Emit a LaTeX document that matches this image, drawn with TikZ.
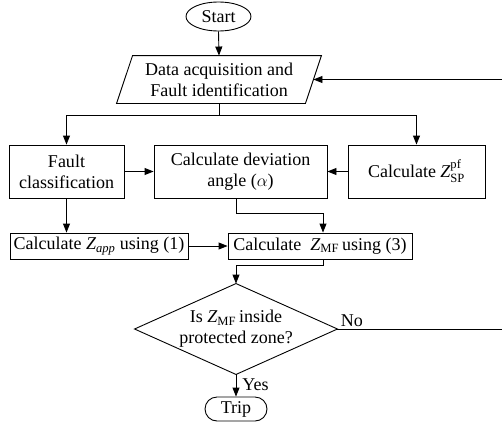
\documentclass[tikz,border=0pt]{standalone}
\usepackage{fontspec}
\setmainfont{Liberation Serif}
\usepackage{amsmath}
\usetikzlibrary{shapes.geometric,arrows.meta}
\begin{document}
\begin{tikzpicture}[x=1pt,y=-1pt,
  font=\fontsize{18}{21}\selectfont,
  line width=0.9pt,
  arr/.style={-{Triangle[length=9pt,width=7pt]}},
  box/.style={draw,rectangle,inner sep=0pt,align=center},
  lbl/.style={inner sep=0pt}]
\useasboundingbox (0,0) rectangle (502,423);
% nodes
\node[draw,ellipse,minimum width=65pt,minimum height=29pt,inner sep=0pt] (start) at (218.5,16.5) {Start};
\node[inner sep=0pt,minimum width=188pt,minimum height=47pt,align=center] (data) at (219,79.5) {Data acquisition and\\Fault identification};
\draw ([xshift=8pt]data.north west) -- ([xshift=8pt]data.north east) -- ([xshift=-8pt]data.south east) -- ([xshift=-8pt]data.south west) -- cycle;
\node[box,minimum width=115pt,minimum height=53pt] (fc) at (66.5,171.5) {Fault\\classification};
\node[box,minimum width=173pt,minimum height=53pt] (dev) at (240.5,171.5) {Calculate deviation\\angle ($\alpha$)};
\node[box,minimum width=137pt,minimum height=53pt] (sp) at (416.5,171.5) {Calculate $\textit{Z}_{\text{SP}}^{\text{pf}}$};
\node[box,minimum width=178pt,minimum height=26pt] (app) at (99,246) {Calculate $\textit{Z}_{\textit{app}}$ using (1)};
\node[box,minimum width=184pt,minimum height=26pt] (mf) at (320,246) {Calculate\ \ $\textit{Z}_{\text{MF}}$\,using (3)};
\node[minimum width=202pt,minimum height=90pt,inner sep=0pt,align=center] (dec) at (236,329) {Is $\textit{Z}_{\text{MF}}$\,inside\\protected zone?};
\draw (dec.north) -- (dec.east) -- (dec.south) -- (dec.west) -- cycle;
\node[draw,rectangle,rounded corners=12pt,minimum width=62pt,minimum height=24pt,inner sep=0pt] (trip) at (236,409) {Trip};
\coordinate (noend) at (502,329);
\coordinate (fbR) at (502,79.5);
% connectors
\draw[arr] (start.south) -- (data.north);
\draw (data.south) -- ++(0,12) coordinate (split);
\draw[arr] (split) -| (fc.north);
\draw[arr] (split) -| (sp.north);
\draw[arr] (fc.east) -- (dev.west);
\draw[arr] (sp.west) -- (dev.east);
\draw[arr] (fc.south) -- (fc.south |- app.north);
\draw[arr] (app.east) -- (mf.west);
\draw[arr] (dev.south -| dec.north) -- ++(0,15) -| ([xshift=3pt]mf.north);
\draw[arr] ([xshift=3pt]mf.south) -- ++(0,6) -| (dec.north);
\draw[arr] (dec.south) -- (trip.north) node[pos=0.45,anchor=west,xshift=6pt,lbl] {Yes};
\draw (dec.east) -- (noend);
\node[anchor=south west,lbl] at ([xshift=3pt,yshift=2pt]dec.east) {No};
\draw[arr] (fbR) -- (data.east);
\end{tikzpicture}
\end{document}
